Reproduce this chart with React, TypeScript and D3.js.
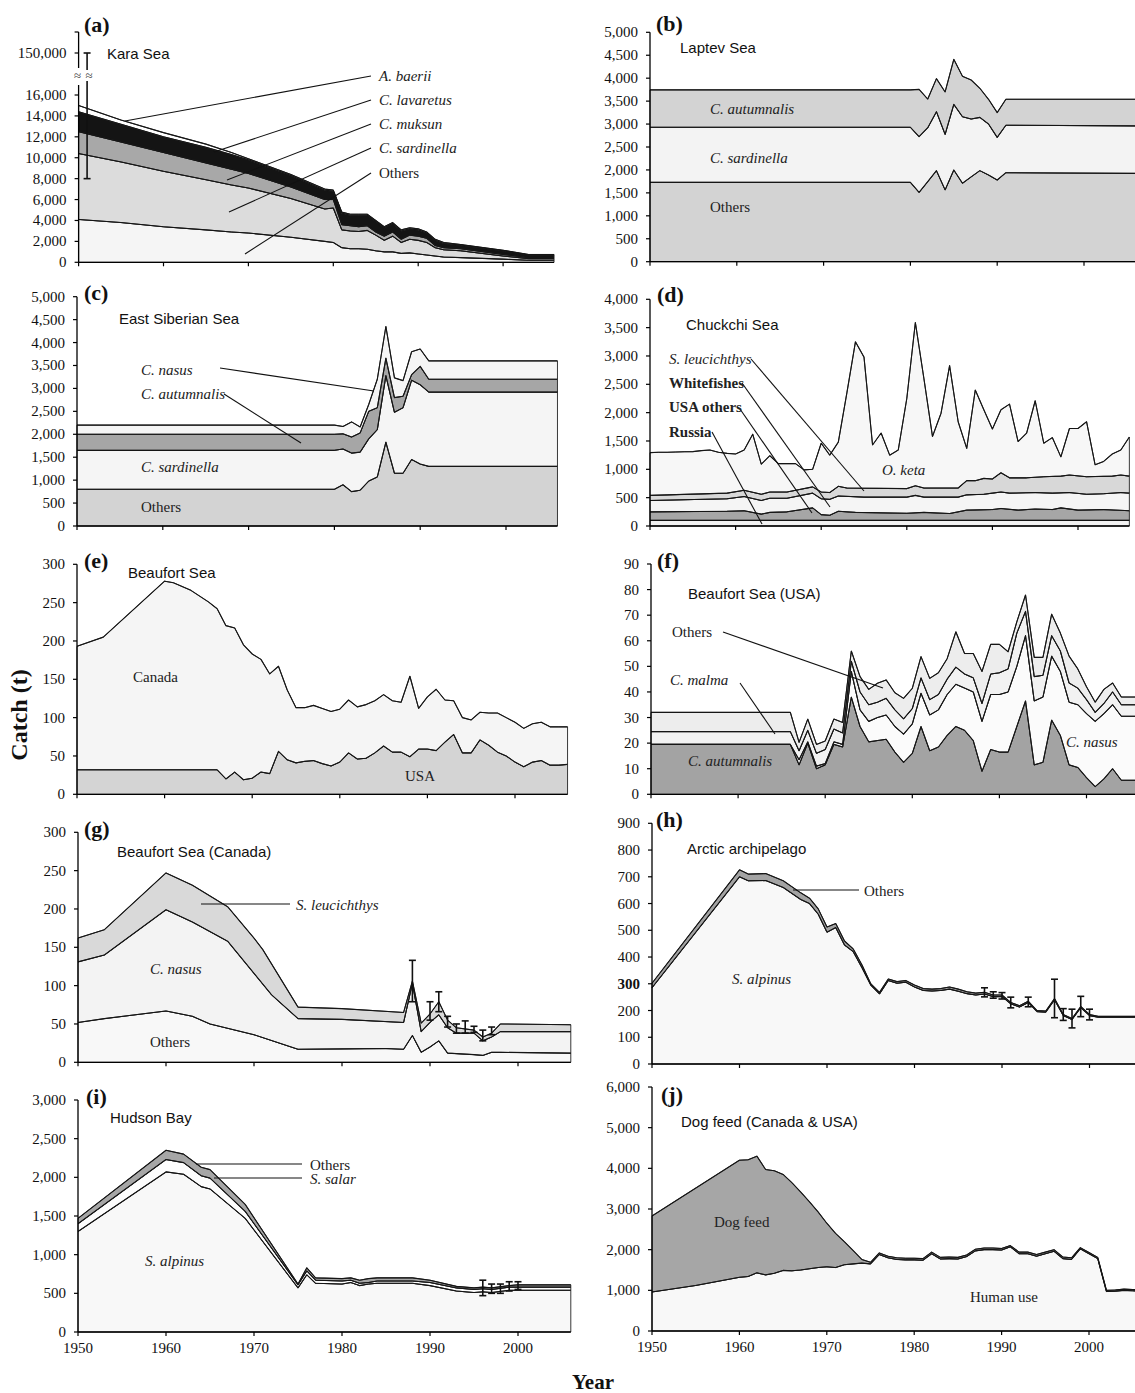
import React from 'react';
import * as d3 from 'd3';

type Pt = [number, number];
type Err = [number, number, number]; // year, centre, half-width

const pairs = (years: number[], values: number[]): Pt[] => years.map((y, i) => [y, values[i]]);

// (a) Kara Sea - upper edge of each stacked layer (t)
const aYears = [1950, 1955, 1960, 1965, 1968, 1970, 1975, 1979, 1980, 1981, 1982, 1983, 1984, 1985, 1986, 1987, 1988, 1989, 1990, 1991, 1992, 1993, 1995, 2000, 2003, 2006];
const aOthers = [4100, 3800, 3400, 3100, 2900, 2800, 2400, 2000, 1900, 1400, 1300, 1300, 1250, 1100, 1000, 1000, 850, 900, 800, 700, 600, 500, 450, 300, 200, 200];
const aSardinella = [10400, 9600, 8700, 7900, 7400, 7100, 6100, 5100, 5200, 3100, 3000, 2950, 3050, 2600, 2100, 2500, 1900, 2200, 2100, 1900, 1400, 1200, 1100, 600, 350, 350];
const aMuksun = [12500, 11500, 10500, 9500, 8900, 8500, 7200, 6000, 6000, 3600, 3500, 3400, 3500, 2900, 2500, 2900, 2200, 2600, 2500, 2300, 1600, 1400, 1300, 750, 450, 450];
const aLavaretus = [14400, 13200, 12000, 11000, 10300, 9800, 8300, 6900, 6800, 4700, 4500, 4500, 4500, 3900, 3300, 3700, 3000, 3200, 3100, 2800, 2100, 1800, 1650, 1100, 700, 700];
const aBaerii = [15000, 13600, 12400, 11300, 10500, 9900, 8400, 7000, 6900, 4800, 4600, 4600, 4600, 4000, 3400, 3800, 3100, 3300, 3200, 2900, 2200, 1900, 1700, 1150, 750, 750];

// (b) Laptev Sea
const bYears = [1950, 1980, 1981, 1982, 1983, 1984, 1985, 1986, 1987, 1988, 1989, 1990, 1991, 2006];
const bOthers = [1730, 1730, 1510, 1745, 1985, 1565, 2000, 1710, 1850, 1985, 1890, 1780, 1940, 1925];
const bSardinella = [2930, 2930, 2725, 2920, 3270, 2775, 3430, 3160, 3110, 3145, 3000, 2710, 2975, 2960];
const bAutumnalis = [3745, 3745, 3755, 3545, 3990, 3700, 4410, 4040, 3960, 3780, 3540, 3250, 3540, 3540];

// (c) East Siberian Sea
const cYears = [1950, 1980, 1981, 1982, 1983, 1984, 1985, 1986, 1987, 1988, 1989, 1990, 1991, 2006];
const cOthers = [800, 800, 900, 750, 780, 980, 1070, 1830, 1150, 1150, 1450, 1350, 1300, 1300];
const cSardinella = [1650, 1650, 1680, 1590, 1610, 1900, 2100, 3280, 2480, 2580, 3180, 3080, 2920, 2920];
const cAutumnalis = [2000, 2000, 2010, 1940, 2030, 2500, 2580, 3660, 2800, 2830, 3300, 3480, 3200, 3200];
const cNasus = [2200, 2200, 2170, 2270, 2160, 2650, 3200, 4350, 3230, 3170, 3800, 3860, 3600, 3600];

// (d) Chuckchi Sea
const dRussia: Pt[] = [[1950, 100], [2006, 100]];
const dUsaOthers: Pt[] = [[1950, 250], [1959, 260], [1961, 270], [1963, 210], [1964, 240], [1966, 250], [1969, 320], [1970, 200], [1971, 190], [1972, 260], [1974, 240], [1980, 225], [1982, 240], [1985, 220], [1987, 280], [1990, 290], [1991, 310], [1993, 280], [1995, 300], [1997, 290], [1998, 320], [2000, 280], [2003, 290], [2006, 270]];
const dWhitefishes: Pt[] = [[1950, 450], [1959, 480], [1961, 520], [1963, 450], [1964, 490], [1966, 490], [1969, 580], [1970, 480], [1971, 470], [1972, 530], [1975, 510], [1980, 510], [1981, 540], [1982, 510], [1986, 510], [1987, 550], [1989, 560], [1990, 580], [1991, 600], [1992, 580], [1995, 590], [1997, 580], [1999, 590], [2001, 560], [2003, 570], [2005, 590], [2006, 580]];
const dLeucichthys: Pt[] = [[1950, 540], [1959, 580], [1961, 630], [1963, 560], [1964, 600], [1966, 600], [1969, 690], [1970, 600], [1971, 590], [1972, 700], [1973, 670], [1980, 660], [1981, 710], [1982, 670], [1986, 670], [1987, 800], [1988, 800], [1989, 840], [1990, 830], [1991, 940], [1992, 850], [1994, 850], [1996, 870], [1998, 880], [1999, 900], [2001, 870], [2004, 880], [2005, 900], [2006, 880]];
const dKetaYears = d3.range(1950, 2007);
const dKetaValues = [1294, 1300, 1300, 1305, 1310, 1312, 1330, 1340, 1300, 1282, 1271, 1340, 1620, 1090, 1240, 1100, 1100, 1100, 990, 1000, 1460, 1250, 1480, 2350, 3250, 2980, 1430, 1640, 1250, 1340, 2250, 3590, 2600, 1580, 1990, 2830, 1840, 1370, 2400, 2050, 1710, 2050, 2150, 1490, 1640, 2210, 1460, 1560, 1220, 1720, 1720, 1840, 1080, 1140, 1270, 1340, 1570];

// (e) Beaufort Sea
const eUsa: Pt[] = [[1950, 32], [1966, 32], [1967, 20], [1968, 29], [1969, 19], [1970, 21], [1971, 29], [1972, 27], [1973, 56], [1974, 45], [1975, 41], [1976, 43], [1977, 44], [1978, 40], [1979, 37], [1980, 42], [1981, 54], [1982, 46], [1983, 47], [1984, 54], [1985, 63], [1986, 55], [1987, 55], [1988, 49], [1989, 59], [1990, 59], [1991, 57], [1992, 68], [1993, 78], [1994, 54], [1995, 54], [1996, 71], [1997, 64], [1998, 55], [1999, 50], [2000, 42], [2001, 36], [2002, 42], [2003, 44], [2004, 38], [2005, 38], [2006, 39]];
const eCanada: Pt[] = [[1950, 193], [1953, 205], [1960, 278], [1961, 276], [1963, 266], [1965, 251], [1966, 242], [1967, 220], [1968, 217], [1969, 195], [1970, 183], [1971, 176], [1972, 157], [1973, 167], [1974, 136], [1975, 113], [1976, 113], [1977, 116], [1978, 112], [1979, 108], [1980, 111], [1981, 123], [1982, 114], [1983, 117], [1984, 122], [1985, 130], [1986, 122], [1987, 120], [1988, 154], [1989, 112], [1990, 127], [1991, 137], [1992, 123], [1993, 122], [1994, 100], [1995, 97], [1996, 107], [1997, 106], [1998, 106], [1999, 100], [2000, 94], [2001, 86], [2002, 92], [2003, 94], [2004, 88], [2005, 88], [2006, 88]];

// (f) Beaufort Sea (USA)
const fAutumnalis: Pt[] = [[1950, 19.5], [1966, 19.5], [1967, 11.5], [1968, 20], [1969, 10], [1970, 11.5], [1971, 19.5], [1972, 18.5], [1973, 38], [1974, 26.5], [1975, 20.5], [1976, 21], [1977, 21.5], [1978, 16.5], [1979, 12.5], [1980, 16], [1981, 26.5], [1982, 17], [1983, 18.5], [1984, 23], [1985, 26.5], [1986, 25], [1987, 21], [1988, 9], [1989, 17.5], [1990, 16.5], [1991, 16.5], [1992, 26.5], [1993, 36.5], [1994, 11.5], [1995, 12.5], [1996, 29], [1997, 23], [1998, 11.5], [1999, 10.5], [2000, 6.5], [2001, 3], [2002, 6], [2003, 10], [2004, 5.5], [2005, 5.5], [2006, 5.5]];
const fNasus: Pt[] = [[1950, 19.5], [1966, 19.5], [1967, 13.5], [1968, 20.5], [1969, 11], [1970, 12], [1971, 20.5], [1972, 19.5], [1973, 48], [1974, 33], [1975, 28.5], [1976, 30], [1977, 31], [1978, 26.5], [1979, 23.5], [1980, 27.5], [1981, 39.5], [1982, 31], [1983, 33], [1984, 39], [1985, 43], [1986, 41.5], [1987, 40], [1988, 28.5], [1989, 39], [1990, 39], [1991, 40], [1992, 50], [1993, 62], [1994, 36.5], [1995, 38], [1996, 54], [1997, 48], [1998, 36], [1999, 35], [2000, 31.5], [2001, 28.5], [2002, 31.5], [2003, 35], [2004, 30.5], [2005, 30.5], [2006, 30.5]];
const fMalma: Pt[] = [[1950, 24.5], [1966, 24.5], [1967, 17], [1968, 25], [1969, 16], [1970, 17.5], [1971, 25.5], [1972, 24], [1973, 52], [1974, 40], [1975, 35], [1976, 36], [1977, 37.5], [1978, 33], [1979, 29.5], [1980, 33.5], [1981, 45.5], [1982, 37], [1983, 39], [1984, 45], [1985, 49.7], [1986, 47], [1987, 45.5], [1988, 35.5], [1989, 47], [1990, 47.5], [1991, 49], [1992, 63], [1993, 71.5], [1994, 46], [1995, 46.5], [1996, 62], [1997, 56], [1998, 43.5], [1999, 41.5], [2000, 37], [2001, 32], [2002, 35.5], [2003, 40], [2004, 35], [2005, 35], [2006, 35]];
const fOthers: Pt[] = [[1950, 32], [1966, 32], [1967, 20.3], [1968, 29.4], [1969, 19.5], [1970, 20.8], [1971, 29.4], [1972, 28.1], [1973, 56], [1974, 46], [1975, 41], [1976, 43.4], [1977, 44.7], [1978, 39.7], [1979, 37.5], [1980, 41.4], [1981, 53.8], [1982, 45.3], [1983, 47.5], [1984, 53], [1985, 63.5], [1986, 55], [1987, 55], [1988, 48], [1989, 58.6], [1990, 58.6], [1991, 55.7], [1992, 67.4], [1993, 77.9], [1994, 53.5], [1995, 53.5], [1996, 70.4], [1997, 63], [1998, 54], [1999, 49], [2000, 42], [2001, 36], [2002, 41], [2003, 43.5], [2004, 38], [2005, 38], [2006, 38]];

// (g) Beaufort Sea (Canada)
const gOthers: Pt[] = [[1950, 52], [1953, 57], [1960, 67], [1963, 60], [1965, 50], [1970, 36], [1975, 17], [1980, 17.5], [1985, 18], [1987, 17], [1988, 35], [1989, 13], [1990, 20], [1991, 28], [1992, 12], [1995, 10], [1996, 9], [1997, 13], [1998, 13], [2006, 12]];
const gNasus: Pt[] = [[1950, 131], [1953, 140], [1960, 199], [1963, 183], [1967, 158], [1970, 116], [1972, 88], [1975, 57], [1980, 56], [1987, 52], [1988, 103], [1989, 40], [1990, 52], [1991, 62], [1992, 45], [1993, 38], [1995, 38], [1996, 28], [1997, 33], [1998, 40], [2006, 40]];
const gLeucichthys: Pt[] = [[1950, 162], [1953, 173], [1960, 247], [1963, 231], [1967, 203], [1970, 162], [1971, 147], [1975, 72], [1980, 70], [1987, 65], [1988, 106], [1989, 51], [1990, 63], [1991, 79], [1992, 55], [1993, 45], [1995, 42], [1996, 33], [1997, 38], [1998, 50], [2006, 49]];
const gErrors: Err[] = [[1988, 106, 27], [1990, 67, 12], [1991, 79, 13], [1992, 53, 7], [1993, 44, 6], [1994, 46, 8], [1995, 43, 4], [1996, 35, 7], [1997, 41, 5]];

// (h) Arctic archipelago
const hAlpinus: Pt[] = [[1950, 285], [1960, 700], [1961, 685], [1963, 686], [1965, 660], [1967, 615], [1968, 600], [1969, 560], [1970, 493], [1971, 510], [1972, 445], [1973, 420], [1974, 360], [1975, 295], [1976, 262], [1977, 312], [1978, 302], [1979, 306], [1980, 288], [1981, 275], [1982, 273], [1983, 275], [1984, 280], [1985, 272], [1986, 263], [1987, 258], [1988, 262], [1989, 252], [1990, 252], [1991, 225], [1992, 213], [1993, 230], [1994, 196], [1995, 194], [1996, 240], [1997, 181], [1998, 166], [1999, 211], [2000, 181], [2001, 175], [2006, 175]];
const hOthers: Pt[] = [[1950, 302], [1960, 726], [1961, 710], [1963, 712], [1965, 685], [1967, 640], [1968, 620], [1969, 580], [1970, 512], [1971, 525], [1972, 460], [1973, 430], [1974, 370], [1975, 300], [1976, 268], [1977, 318], [1978, 308], [1979, 312], [1980, 295], [1981, 282], [1982, 280], [1983, 282], [1984, 288], [1985, 280], [1986, 270], [1987, 265], [1988, 268], [1989, 258], [1990, 258], [1991, 230], [1992, 218], [1993, 235], [1994, 200], [1995, 198], [1996, 245], [1997, 185], [1998, 170], [1999, 215], [2000, 185], [2001, 178], [2006, 178]];
const hErrors: Err[] = [[1988, 268, 17], [1989, 258, 12], [1990, 255, 12], [1991, 230, 20], [1993, 232, 18], [1996, 245, 72], [1997, 185, 22], [1998, 170, 35], [1999, 215, 38], [2000, 185, 20]];

// (i) Hudson Bay
const iAlpinus: Pt[] = [[1950, 1300], [1960, 2070], [1962, 2040], [1964, 1880], [1965, 1850], [1969, 1470], [1975, 570], [1976, 740], [1977, 630], [1980, 620], [1981, 640], [1982, 600], [1983, 620], [1984, 630], [1988, 630], [1990, 600], [1993, 530], [1995, 510], [1996, 520], [1997, 510], [1999, 540], [2000, 540], [2006, 540]];
const iSalar: Pt[] = [[1950, 1400], [1960, 2230], [1962, 2190], [1964, 2020], [1965, 1990], [1969, 1560], [1975, 610], [1976, 790], [1977, 670], [1980, 660], [1981, 670], [1982, 630], [1983, 640], [1984, 660], [1988, 660], [1990, 640], [1993, 570], [1995, 550], [1996, 560], [1997, 550], [1999, 580], [2000, 580], [2006, 580]];
const iOthers: Pt[] = [[1950, 1470], [1960, 2350], [1962, 2300], [1964, 2130], [1965, 2100], [1969, 1650], [1975, 620], [1976, 830], [1977, 700], [1980, 690], [1981, 700], [1982, 670], [1983, 690], [1984, 700], [1988, 700], [1990, 670], [1993, 590], [1995, 570], [1996, 580], [1997, 570], [1999, 600], [2000, 610], [2006, 610]];
const iErrors: Err[] = [[1996, 570, 100], [1997, 560, 60], [1998, 560, 60], [1999, 590, 60], [2000, 600, 50]];

// (j) Dog feed (Canada & USA)
const jHumanUse: Pt[] = [[1950, 960], [1955, 1120], [1960, 1320], [1961, 1340], [1962, 1430], [1963, 1380], [1964, 1420], [1965, 1490], [1966, 1480], [1967, 1500], [1968, 1530], [1969, 1560], [1970, 1580], [1971, 1560], [1972, 1630], [1973, 1650], [1974, 1670], [1975, 1650], [1976, 1880], [1977, 1800], [1978, 1760], [1979, 1750], [1980, 1750], [1981, 1740], [1982, 1900], [1983, 1770], [1984, 1780], [1985, 1770], [1986, 1830], [1987, 1970], [1988, 2000], [1989, 2000], [1990, 1990], [1991, 2070], [1992, 1900], [1993, 1900], [1994, 1840], [1995, 1900], [1996, 1960], [1997, 1780], [1998, 1760], [1999, 2020], [2000, 1900], [2001, 1780], [2002, 970], [2003, 980], [2004, 1000], [2005, 990], [2006, 980]];
const jDogFeed: Pt[] = [[1950, 2830], [1960, 4200], [1961, 4210], [1962, 4300], [1963, 3970], [1964, 3940], [1965, 3850], [1966, 3650], [1967, 3420], [1968, 3180], [1969, 2930], [1970, 2650], [1971, 2400], [1972, 2200], [1973, 1980], [1974, 1760], [1975, 1690], [1976, 1920], [1977, 1840], [1978, 1800], [1979, 1790], [1980, 1790], [1981, 1780], [1982, 1940], [1983, 1810], [1984, 1820], [1985, 1810], [1986, 1870], [1987, 2010], [1988, 2040], [1989, 2040], [1990, 2030], [1991, 2100], [1992, 1940], [1993, 1940], [1994, 1880], [1995, 1940], [1996, 2000], [1997, 1820], [1998, 1800], [1999, 2050], [2000, 1930], [2001, 1810], [2002, 1000], [2003, 1010], [2004, 1030], [2005, 1020], [2006, 1010]];

const xTicks = [1950, 1960, 1970, 1980, 1990, 2000];

const SERIF = '"Liberation Serif", "Times New Roman", serif';
const SANS = '"Liberation Sans", Arial, sans-serif';

interface Layer { top: Pt[]; fill: string }
interface Label { x: number; y: number; text: string; style?: 'i' | 'b' | 'n' }
interface Panel {
  letter: string; title: string; tx: number; ty: number;
  x0: number; ppy: number; yBase: number; yTop: number; yMax: number; step: number;
  layers: Layer[]; errors?: Err[]; labels: Label[]; leaders: number[][];
  xLabels?: boolean; broken?: boolean; lx: number; ly: number; boldTick?: number;
}

const panels: Panel[] = [
  {
    letter: '(a)', title: 'Kara Sea', tx: 107, ty: 58.5, lx: 84, ly: 32,
    x0: 78.6, ppy: 8.49, yBase: 262.3, yTop: 95, yMax: 16000, step: 2000, broken: true,
    layers: [
      { top: pairs(aYears, aOthers), fill: '#f5f5f5' },
      { top: pairs(aYears, aSardinella), fill: '#dcdcdc' },
      { top: pairs(aYears, aMuksun), fill: '#a8a8a8' },
      { top: pairs(aYears, aLavaretus), fill: '#141414' },
      { top: pairs(aYears, aBaerii), fill: '#ffffff' },
    ],
    labels: [
      { x: 379, y: 81, text: 'A. baerii', style: 'i' },
      { x: 379, y: 105, text: 'C. lavaretus', style: 'i' },
      { x: 379, y: 129, text: 'C. muksun', style: 'i' },
      { x: 379, y: 153, text: 'C. sardinella', style: 'i' },
      { x: 379, y: 178, text: 'Others' },
    ],
    leaders: [[371, 76, 125, 121], [371, 100, 214, 152], [371, 124, 227, 180], [371, 148, 229, 212], [371, 173, 245, 254]],
  },
  {
    letter: '(b)', title: 'Laptev Sea', tx: 680, ty: 53, lx: 656, ly: 31,
    x0: 650, ppy: 8.68, yBase: 261.7, yTop: 32.3, yMax: 5000, step: 500,
    layers: [
      { top: pairs(bYears, bOthers), fill: '#d3d3d3' },
      { top: pairs(bYears, bSardinella), fill: '#f3f3f3' },
      { top: pairs(bYears, bAutumnalis), fill: '#d3d3d3' },
    ],
    labels: [
      { x: 710, y: 114, text: 'C. autumnalis', style: 'i' },
      { x: 710, y: 163, text: 'C. sardinella', style: 'i' },
      { x: 710, y: 212, text: 'Others' },
    ],
    leaders: [],
  },
  {
    letter: '(c)', title: 'East Siberian Sea', tx: 119, ty: 324, lx: 84, ly: 300,
    x0: 77, ppy: 8.58, yBase: 526, yTop: 296.7, yMax: 5000, step: 500,
    layers: [
      { top: pairs(cYears, cOthers), fill: '#d3d3d3' },
      { top: pairs(cYears, cSardinella), fill: '#f5f5f5' },
      { top: pairs(cYears, cAutumnalis), fill: '#a6a6a6' },
      { top: pairs(cYears, cNasus), fill: '#f5f5f5' },
    ],
    labels: [
      { x: 141, y: 375, text: 'C. nasus', style: 'i' },
      { x: 141, y: 399, text: 'C. autumnalis', style: 'i' },
      { x: 141, y: 472, text: 'C. sardinella', style: 'i' },
      { x: 141, y: 512, text: 'Others' },
    ],
    leaders: [[220, 368, 374, 391], [224, 394, 301, 443]],
  },
  {
    letter: '(d)', title: 'Chuckchi Sea', tx: 686, ty: 330, lx: 657, ly: 302,
    x0: 650, ppy: 8.56, yBase: 526, yTop: 299.3, yMax: 4000, step: 500,
    layers: [
      { top: dRussia, fill: '#f2f2f2' },
      { top: dUsaOthers, fill: '#a6a6a6' },
      { top: dWhitefishes, fill: '#f5f5f5' },
      { top: dLeucichthys, fill: '#d8d8d8' },
      { top: pairs(dKetaYears, dKetaValues), fill: '#f7f7f7' },
    ],
    labels: [
      { x: 669, y: 364, text: 'S. leucichthys', style: 'i' },
      { x: 669, y: 388, text: 'Whitefishes', style: 'b' },
      { x: 669, y: 412, text: 'USA others', style: 'b' },
      { x: 669, y: 437, text: 'Russia', style: 'b' },
      { x: 882, y: 475, text: 'O. keta', style: 'i' },
    ],
    leaders: [[751, 359, 864, 491], [742, 383, 830, 507], [740, 409, 812, 513], [712, 432, 762, 524]],
  },
  {
    letter: '(e)', title: 'Beaufort Sea', tx: 128, ty: 578, lx: 84, ly: 568,
    x0: 77, ppy: 8.76, yBase: 794.3, yTop: 564.3, yMax: 300, step: 50,
    layers: [
      { top: eUsa, fill: '#d4d4d4' },
      { top: eCanada, fill: '#f5f5f5' },
    ],
    labels: [
      { x: 133, y: 682, text: 'Canada' },
      { x: 405, y: 781, text: 'USA' },
    ],
    leaders: [],
  },
  {
    letter: '(f)', title: 'Beaufort Sea (USA)', tx: 688, ty: 599, lx: 657, ly: 568,
    x0: 651, ppy: 8.71, yBase: 794.3, yTop: 564, yMax: 90, step: 10,
    layers: [
      { top: fAutumnalis, fill: '#a3a3a3' },
      { top: fNasus, fill: '#fbfbfb' },
      { top: fMalma, fill: '#f2f2f2' },
      { top: fOthers, fill: '#ededed' },
    ],
    labels: [
      { x: 672, y: 637, text: 'Others' },
      { x: 670, y: 685, text: 'C. malma', style: 'i' },
      { x: 688, y: 766, text: 'C. autumnalis', style: 'i' },
      { x: 1066, y: 747, text: 'C. nasus', style: 'i' },
    ],
    leaders: [[723, 632, 883, 688], [740, 683, 775, 734]],
  },
  {
    letter: '(g)', title: 'Beaufort Sea (Canada)', tx: 117, ty: 857, lx: 84, ly: 836,
    x0: 78, ppy: 8.8, yBase: 1062.3, yTop: 832.3, yMax: 300, step: 50,
    layers: [
      { top: gOthers, fill: '#f8f8f8' },
      { top: gNasus, fill: '#f3f3f3' },
      { top: gLeucichthys, fill: '#d9d9d9' },
    ],
    errors: gErrors,
    labels: [
      { x: 296, y: 910, text: 'S. leucichthys', style: 'i' },
      { x: 150, y: 974, text: 'C. nasus', style: 'i' },
      { x: 150, y: 1047, text: 'Others' },
    ],
    leaders: [[201, 904, 290, 904]],
  },
  {
    letter: '(h)', title: 'Arctic archipelago', tx: 687, ty: 854, lx: 656, ly: 827,
    x0: 652, ppy: 8.75, yBase: 1064, yTop: 823.3, yMax: 900, step: 100, boldTick: 300,
    layers: [
      { top: hAlpinus, fill: '#f8f8f8' },
      { top: hOthers, fill: '#a3a3a3' },
    ],
    errors: hErrors,
    labels: [
      { x: 864, y: 896, text: 'Others' },
      { x: 732, y: 984, text: 'S. alpinus', style: 'i' },
    ],
    leaders: [[793, 890, 859, 890]],
  },
  {
    letter: '(i)', title: 'Hudson Bay', tx: 110, ty: 1123, lx: 86, ly: 1104,
    x0: 78, ppy: 8.8, yBase: 1332, yTop: 1100, yMax: 3000, step: 500, xLabels: true,
    layers: [
      { top: iAlpinus, fill: '#f8f8f8' },
      { top: iSalar, fill: '#fdfdfd' },
      { top: iOthers, fill: '#a6a6a6' },
    ],
    errors: iErrors,
    labels: [
      { x: 310, y: 1169.5, text: 'Others' },
      { x: 310, y: 1183.5, text: 'S. salar', style: 'i' },
      { x: 145, y: 1266, text: 'S. alpinus', style: 'i' },
    ],
    leaders: [[196, 1164, 302, 1164], [214, 1178, 302, 1178]],
  },
  {
    letter: '(j)', title: 'Dog feed (Canada & USA)', tx: 681, ty: 1127, lx: 661, ly: 1102,
    x0: 652, ppy: 8.74, yBase: 1331, yTop: 1087, yMax: 6000, step: 1000, xLabels: true,
    layers: [
      { top: jHumanUse, fill: '#f8f8f8' },
      { top: jDogFeed, fill: '#a6a6a6' },
    ],
    labels: [
      { x: 714, y: 1227, text: 'Dog feed' },
      { x: 970, y: 1302, text: 'Human use' },
    ],
    leaders: [],
  },
];

const fmt = d3.format(',');
const TICK_FONT = 15;

function PanelView({ p }: { p: Panel }) {
  const x = d3.scaleLinear().domain([1950, 2006]).range([p.x0, p.x0 + 56 * p.ppy]);
  const y = d3.scaleLinear().domain([0, p.yMax]).range([p.yBase, p.yTop]);
  const line = d3.line<Pt>().x(d => x(d[0])).y(d => y(d[1]));
  const base: Pt[] = [[1950, 0], [2006, 0]];
  const ticks = d3.range(0, p.yMax + p.step / 2, p.step);
  const axisTop = p.broken ? 85 : p.yTop;
  // upper part of the broken axis in (a)
  const yUp = d3.scaleLinear().domain([100000, 200000]).range([74, 32]);

  return (
    <g>
      {p.layers.map((l, i) => {
        const below = i === 0 ? base : p.layers[i - 1].top;
        const poly = l.top.concat(below.slice().reverse());
        return <path key={'f' + i} d={(line(poly) || '') + 'Z'} fill={l.fill} stroke="#222" strokeWidth={0.9} strokeLinejoin="round" />;
      })}
      {p.layers.map((l, i) => (
        <path key={'l' + i} d={line(l.top) || ''} fill="none" stroke="#151515" strokeWidth={1.1} strokeLinejoin="round" />
      ))}
      {(p.errors || []).map((e, i) => (
        <g key={'e' + i} stroke="#111" strokeWidth={1.6}>
          <line x1={x(e[0])} x2={x(e[0])} y1={y(e[1] - e[2])} y2={y(e[1] + e[2])} />
          <line x1={x(e[0]) - 3.5} x2={x(e[0]) + 3.5} y1={y(e[1] - e[2])} y2={y(e[1] - e[2])} />
          <line x1={x(e[0]) - 3.5} x2={x(e[0]) + 3.5} y1={y(e[1] + e[2])} y2={y(e[1] + e[2])} />
        </g>
      ))}
      {/* axes */}
      <line x1={p.x0} x2={p.x0} y1={p.yBase} y2={axisTop} stroke="#000" strokeWidth={1.3} />
      <line x1={p.x0} x2={x(2006)} y1={p.yBase} y2={p.yBase} stroke="#000" strokeWidth={1.3} />
      {ticks.map(t => (
        <g key={'yt' + t}>
          <line x1={p.x0 - 4} x2={p.x0} y1={y(t)} y2={y(t)} stroke="#000" strokeWidth={1.2} />
          <text x={p.x0 - 12} y={y(t) + 5} textAnchor="end" fontFamily={SERIF} fontSize={TICK_FONT}
            fontWeight={p.boldTick === t ? 'bold' : 'normal'} fill="#111">{fmt(t)}</text>
        </g>
      ))}
      {xTicks.map(t => (
        <g key={'xt' + t}>
          <line x1={x(t)} x2={x(t)} y1={p.yBase} y2={p.yBase + 4} stroke="#000" strokeWidth={1.2} />
          {p.xLabels && (
            <text x={x(t)} y={p.yBase + 21} textAnchor="middle" fontFamily={SERIF} fontSize={TICK_FONT} fill="#111">{t}</text>
          )}
        </g>
      ))}
      {p.broken && (
        <g>
          <line x1={p.x0} x2={p.x0} y1={68} y2={32} stroke="#000" strokeWidth={1.3} />
          {[150000, 200000].map(t => (
            <line key={t} x1={p.x0 - 4} x2={p.x0} y1={yUp(t)} y2={yUp(t)} stroke="#000" strokeWidth={1.2} />
          ))}
          <text x={p.x0 - 12} y={yUp(150000) + 5} textAnchor="end" fontFamily={SERIF} fontSize={TICK_FONT} fill="#111">{fmt(150000)}</text>
          {/* error bar of the 1951 estimate, running across the axis break */}
          <g stroke="#111" strokeWidth={1.6}>
            <line x1={x(1951)} x2={x(1951)} y1={yUp(150000)} y2={70} />
            <line x1={x(1951)} x2={x(1951)} y1={81} y2={y(8000)} />
            <line x1={x(1951) - 3.5} x2={x(1951) + 3.5} y1={yUp(150000)} y2={yUp(150000)} />
            <line x1={x(1951) - 3.5} x2={x(1951) + 3.5} y1={y(8000)} y2={y(8000)} />
          </g>
          <text x={p.x0 - 1} y={79.5} textAnchor="middle" fontFamily={SERIF} fontSize={13} fill="#444">≈</text>
          <text x={x(1951) + 2} y={79.5} textAnchor="middle" fontFamily={SERIF} fontSize={13} fill="#444">≈</text>
        </g>
      )}
      {p.leaders.map((l, i) => (
        <line key={'ld' + i} x1={l[0]} y1={l[1]} x2={l[2]} y2={l[3]} stroke="#111" strokeWidth={1.1} />
      ))}
      {p.labels.map((l, i) => (
        <text key={'lb' + i} x={l.x} y={l.y} fontFamily={SERIF} fontSize={15}
          fontStyle={l.style === 'i' ? 'italic' : 'normal'} fontWeight={l.style === 'b' ? 'bold' : 'normal'} fill="#222">{l.text}</text>
      ))}
      <text x={p.lx} y={p.ly} fontFamily={SERIF} fontWeight="bold" fontSize={22} fill="#111">{p.letter}</text>
      <text x={p.tx} y={p.ty} fontFamily={SANS} fontSize={15} fill="#111">{p.title}</text>
    </g>
  );
}

export default function App() {
  return (
    <svg width={1135} height={1393} style={{ position: 'absolute', left: 0, top: 0, background: '#fff' }}>
      <rect width={1135} height={1393} fill="#fff" />
      {panels.map(p => <PanelView key={p.letter} p={p} />)}
      <text transform="translate(27,715) rotate(-90)" textAnchor="middle" fontFamily={SERIF} fontWeight="bold" fontSize={24} fill="#111">Catch (t)</text>
      <text x={593} y={1389} textAnchor="middle" fontFamily={SERIF} fontWeight="bold" fontSize={21} fill="#111">Year</text>
    </svg>
  );
}
